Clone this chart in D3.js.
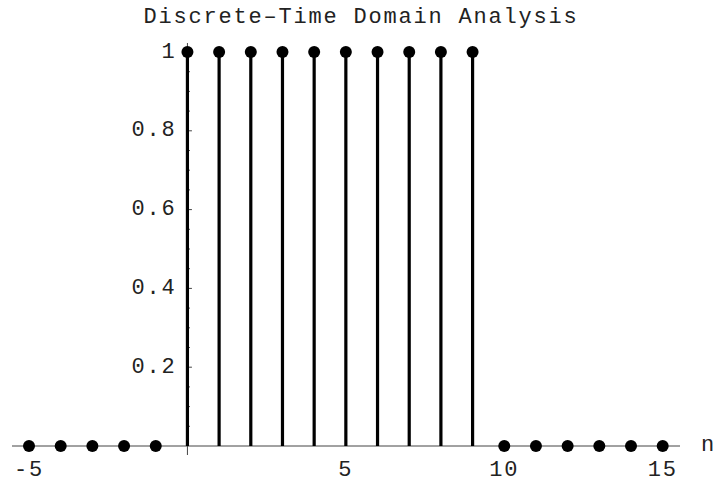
<!DOCTYPE html>
<html>
<head>
<meta charset="utf-8">
<script src="https://cdn.jsdelivr.net/npm/d3@7"></script>
<style>
  html, body { margin: 0; padding: 0; background: #fff; }
  svg text { font-family: "Courier New", "Liberation Mono", monospace; fill: #222; }
</style>
</head>
<body>
<svg id="chart" width="720" height="482"></svg>
<script>
// Discrete-time rectangular pulse: x[n] = 1 for 0 <= n <= 9, else 0
const samples = d3.range(-5, 16);
const values = [0, 0, 0, 0, 0, 1, 1, 1, 1, 1, 1, 1, 1, 1, 1, 0, 0, 0, 0, 0, 0];
const xMajorTicks = [-5, 5, 10, 15];
const yMajorTicks = [0.2, 0.4, 0.6, 0.8, 1];
const titleText = "Discrete\u2013Time Domain Analysis";
const xAxisLabel = "n";

const svg = d3.select("#chart");
const x = d3.scaleLinear().domain([-5, 15]).range([29, 662.7]);
const y = d3.scaleLinear().domain([0, 1]).range([446, 52]);

const axisColor = "#444";
const fontSize = 22;
const spacing = 1.8;

// horizontal axis line
svg.append("line")
  .attr("x1", 12).attr("x2", 680)
  .attr("y1", y(0)).attr("y2", y(0))
  .attr("stroke", axisColor).attr("stroke-width", 1);

// vertical axis line
svg.append("line")
  .attr("x1", x(0)).attr("x2", x(0))
  .attr("y1", 43).attr("y2", 455)
  .attr("stroke", axisColor).attr("stroke-width", 1);

// x ticks: major every 5, minor every 1
const xMinor = d3.range(-5, 16).filter(v => v !== 0 && !xMajorTicks.includes(v));
svg.append("g").selectAll("line").data(xMinor).join("line")
  .attr("x1", d => x(d)).attr("x2", d => x(d))
  .attr("y1", y(0)).attr("y2", y(0) - 2.5)
  .attr("stroke", axisColor);
svg.append("g").selectAll("line").data(xMajorTicks).join("line")
  .attr("x1", d => x(d)).attr("x2", d => x(d))
  .attr("y1", y(0)).attr("y2", y(0) - 4.5)
  .attr("stroke", axisColor);

// y ticks: major every 0.2, minor every 0.05
const yMinor = d3.range(1, 21).map(i => i * 0.05).filter(v => Math.abs(v * 5 - Math.round(v * 5)) > 1e-6);
svg.append("g").selectAll("line").data(yMinor).join("line")
  .attr("x1", x(0)).attr("x2", x(0) + 2.5)
  .attr("y1", d => y(d)).attr("y2", d => y(d))
  .attr("stroke", axisColor);
svg.append("g").selectAll("line").data(yMajorTicks).join("line")
  .attr("x1", x(0)).attr("x2", x(0) + 4.5)
  .attr("y1", d => y(d)).attr("y2", d => y(d))
  .attr("stroke", axisColor);

// tick labels
const fmtY = d => (d === 1 ? "1" : d3.format(".1f")(d));
svg.append("g").selectAll("text").data(yMajorTicks).join("text")
  .attr("x", x(0) - 11).attr("y", d => y(d))
  .attr("text-anchor", "end")
  .attr("dominant-baseline", "central")
  .attr("font-size", fontSize)
  .attr("letter-spacing", spacing)
  .text(fmtY);

svg.append("g").selectAll("text").data(xMajorTicks).join("text")
  .attr("x", d => x(d)).attr("y", 476)
  .attr("text-anchor", "middle")
  .attr("font-size", fontSize)
  .attr("letter-spacing", spacing)
  .text(d => d < 0 ? "-" + Math.abs(d) : String(d));

// axis label
svg.append("text")
  .attr("x", 701).attr("y", y(0) + 5)
  .attr("font-size", fontSize)
  .text(xAxisLabel);

// title
svg.append("text")
  .attr("x", 361).attr("y", 23)
  .attr("text-anchor", "middle")
  .attr("font-size", fontSize)
  .attr("letter-spacing", spacing)
  .text(titleText);

// stems
const data = samples.map((n, i) => ({ n, v: values[i] }));
svg.append("g").selectAll("line").data(data.filter(d => d.v !== 0)).join("line")
  .attr("x1", d => x(d.n)).attr("x2", d => x(d.n))
  .attr("y1", y(0)).attr("y2", d => y(d.v))
  .attr("stroke", "#000").attr("stroke-width", 3.2);

// sample markers
svg.append("g").selectAll("circle").data(data).join("circle")
  .attr("cx", d => x(d.n)).attr("cy", d => y(d.v))
  .attr("r", 6).attr("fill", "#000");
</script>
</body>
</html>
